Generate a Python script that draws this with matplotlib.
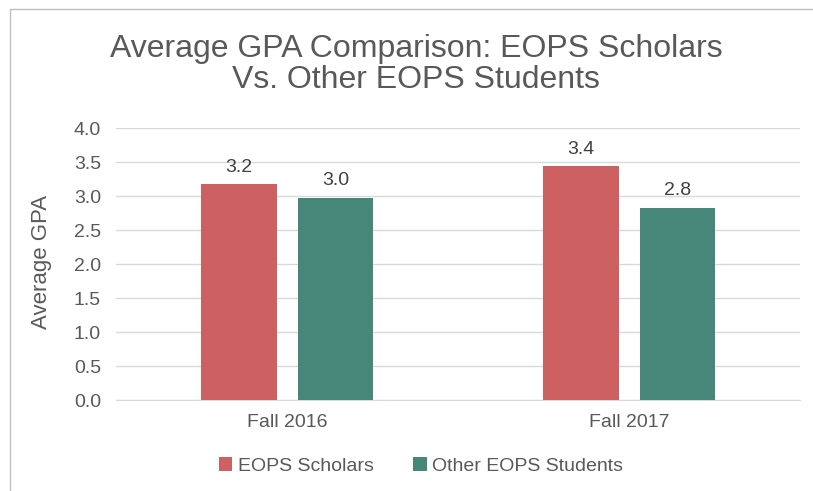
import numpy as np
from matplotlib import pyplot as plt
from matplotlib.patches import Rectangle

plt.rcParams['font.family'] = ['Liberation Sans', 'DejaVu Sans']

categories = ['Fall 2016', 'Fall 2017']
series_names = ['EOPS Scholars', 'Other EOPS Students']
scholars = [3.18, 3.44]
others = [2.98, 2.83]
labels_scholars = ['3.2', '3.4']
labels_others = ['3.0', '2.8']
colors = ['#CD6161', '#46877A']

fig = plt.figure(figsize=(8.13, 4.91), dpi=100)
ax = fig.add_axes([0.143, 0.185, 0.8413, 0.554])

x = np.arange(len(categories))
w = 0.221
gap = 0.061
off = (w + gap) / 2
b1 = ax.bar(x - off, scholars, w, color=colors[0], label=series_names[0], zorder=3)
b2 = ax.bar(x + off, others, w, color=colors[1], label=series_names[1], zorder=3)

for bars, labs in [(b1, labels_scholars), (b2, labels_others)]:
    for b, t in zip(bars, labs):
        ax.annotate(t, (b.get_x() + b.get_width() / 2, b.get_height()),
                    xytext=(0, 6), textcoords='offset points',
                    ha='center', va='bottom', fontsize=14, color='#404040')

ax.set_xlim(-0.5, 1.5)
ax.set_ylim(0, 4)
ax.set_yticks(np.arange(0, 4.01, 0.5))
ax.set_yticklabels(['%.1f' % v for v in np.arange(0, 4.01, 0.5)])
ax.set_xticks(x)
ax.set_xticklabels(categories)
ax.yaxis.grid(True, color='#D9D9D9', linewidth=1, zorder=0)
for s in ['top', 'right', 'left']:
    ax.spines[s].set_visible(False)
ax.spines['bottom'].set_color('#D9D9D9')
ax.tick_params(axis='both', length=0, labelsize=14, labelcolor='#595959')
ax.tick_params(axis='y', pad=11)
ax.tick_params(axis='x', pad=10)

fig.text(42 / 813, 1 - 262 / 491, 'Average GPA', rotation=90, ha='center', va='center',
         fontsize=16, color='#595959')

fig.text(0.512, 0.868, 'Average GPA Comparison: EOPS Scholars\nVs. Other EOPS Students',
         ha='center', va='center', fontsize=23, color='#595959', linespacing=1.05)

fig.legend(loc='center', bbox_to_anchor=(0.518, 0.051), ncol=2, frameon=False,
           fontsize=14, handlelength=0.7, handleheight=0.7, handletextpad=0.3,
           columnspacing=2.0, labelcolor='#595959')

fig.add_artist(Rectangle((10 / 813, -0.1), 1.2, 1 - 9 / 491 + 0.1, transform=fig.transFigure,
                         fill=False, edgecolor='#BFBFBF', linewidth=1))

fig.savefig('out.png', dpi=100)
